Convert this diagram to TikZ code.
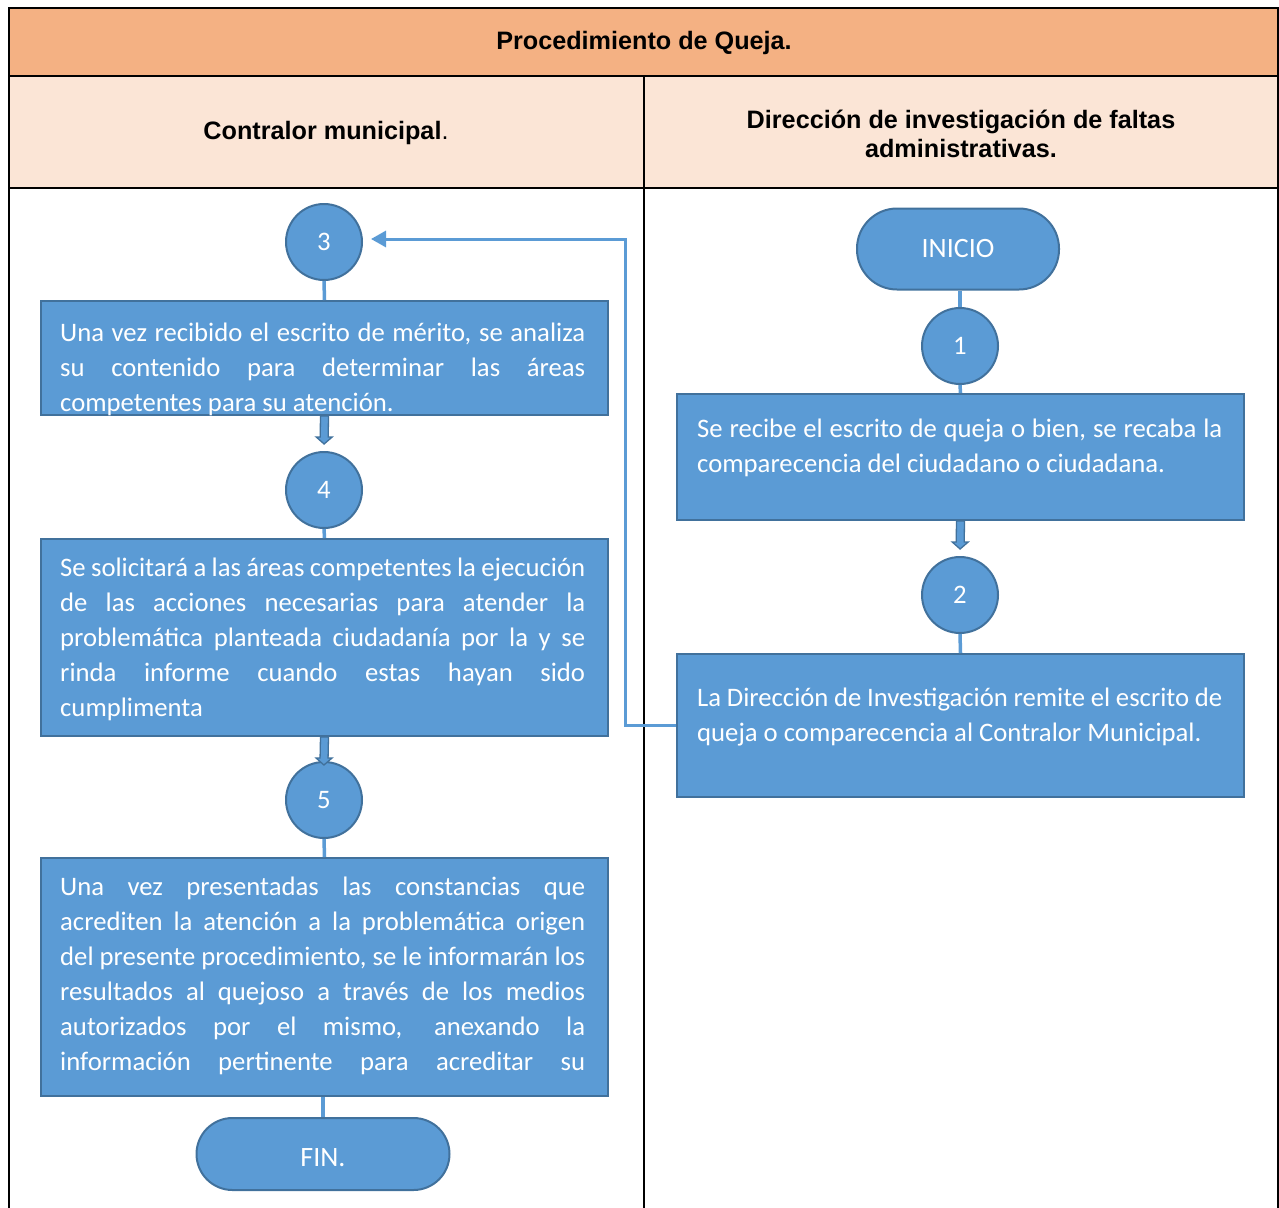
\documentclass[tikz,border=0pt]{standalone}
\usepackage{fontspec}
\setmainfont{Carlito}
\newfontfamily\headfont{Liberation Sans}
\usetikzlibrary{arrows.meta,calc}

\definecolor{flowfill}{HTML}{5B9BD5}
\definecolor{flowedge}{HTML}{41719C}
\definecolor{headdark}{HTML}{F4B183}
\definecolor{headlight}{HTML}{FBE5D6}

% one justified line of a step text, and a paragraph made of such lines
\newcommand{\jl}[1]{\hbox to 525pt{#1}}
\newcommand{\nl}[1]{\hbox{#1}}
\newcommand{\flowpar}[1]{\vtop{\baselineskip=35pt\lineskiplimit=-100pt #1}}

% thick block arrow leaving the bottom of one node towards another
\newcommand{\blockarrow}[2]{%
  \coordinate (#1-hb) at ($(#1.south)!21pt!(#2.north)$);
  \coordinate (#1-tip) at ($(#1.south)!28pt!(#2.north)$);
  \draw[blockarr] ($(#1.south)+(-4,0)$) -- ($(#1.south)+(4,0)$)
    -- ($(#1-hb)+(4,0)$) -- ($(#1-hb)+(8,0)$) -- (#1-tip)
    -- ($(#1-hb)+(-8,0)$) -- ($(#1-hb)+(-4,0)$) -- cycle;}

\begin{document}
\begin{tikzpicture}[x=1pt,y=-1pt,
  bodyfont/.style={font=\fontsize{26.7}{35}\selectfont},
  headtext/.style={font=\headfont\bfseries\fontsize{25.2}{29}\selectfont, text=black, align=center, inner sep=0},
  grid/.style={draw=black, line width=2.5pt},
  stepbox/.style={rectangle, draw=flowedge, fill=flowfill, line width=2pt, inner sep=0, anchor=north west},
  numcircle/.style={circle, draw=flowedge, fill=flowfill, line width=2pt, minimum size=76pt, inner sep=0, text=white, bodyfont},
  terminal/.style={rectangle, draw=flowedge, fill=flowfill, line width=2pt, inner sep=0, text=white, font=\fontsize{28}{35}\selectfont},
  steptext/.style={anchor=base west, inner sep=0, text=white, bodyfont},
  link/.style={draw=flowfill, line width=3.5pt},
  blockarr/.style={draw=flowedge, fill=flowfill, line width=1.3pt, line join=miter},
]
\useasboundingbox (0,0) rectangle (1279,1207);

% table header
\fill[headdark] (9,8) rectangle (1278,76);
\fill[headlight] (9,76) rectangle (1278,188);
\draw[grid] (9,1210) -- (9,8) -- (1278,8) -- (1278,1210);
\draw[grid] (9,76) -- (1278,76);
\draw[grid] (9,188) -- (1278,188);
\draw[grid] (644,76) -- (644,1210);

\node[headtext] (title) at (644,43) {Procedimiento de Queja.};
\node[headtext] (laneA) at (326,133) {Contralor municipal\mdseries.};
\node[headtext] (laneB) at (961,134) {Dirección de investigación de faltas\\administrativas.};

% right lane
\node[terminal, minimum width=202pt, minimum height=81pt, rounded corners=40pt] (inicio) at (958,249) {INICIO};
\node[numcircle] (c1) at (960,346) {1};
\node[stepbox, minimum width=567pt, minimum height=126pt] (boxD) at (676,393) {};
\node[numcircle] (c2) at (960,595) {2};
\node[stepbox, minimum width=567pt, minimum height=143pt] (boxE) at (676,653) {};

% left lane
\node[numcircle] (c3) at (324,242) {3};
\node[stepbox, minimum width=567pt, minimum height=114pt] (boxA) at (40,300) {};
\node[numcircle] (c4) at (324,490) {4};
\node[stepbox, minimum width=567pt, minimum height=197pt] (boxB) at (40,538) {};
\node[numcircle] (c5) at (324,800) {5};
\node[stepbox, minimum width=567pt, minimum height=238pt] (boxC) at (40,857) {};
\node[terminal, minimum width=253pt, minimum height=72pt, rounded corners=36pt,
  label={[text=white, font=\fontsize{28}{35}\selectfont, yshift=-4pt]center:FIN.}] (fin) at (323,1154) {};

% plain links
\draw[link] (c1.north |- inicio.south) -- (c1.north);
\draw[link] (c1.south) -- (boxD.north);
\draw[link] (c2.south) -- (boxE.north);
\draw[link] (c3.south) -- (boxA.north);
\draw[link] (c4.south) -- (boxB.north);
\draw[link] (c5.south) -- (boxC.north);
\draw[link] (fin.north |- boxC.south) -- (fin.north);

% block arrows
\blockarrow{boxD}{c2}
\blockarrow{boxA}{c4}
\blockarrow{boxB}{c5}

% return to the other lane
\draw[link, line width=3pt, -{Triangle[length=15pt,width=16pt]}]
  (boxE.west) -- ++(-51,0) |- ([xshift=8pt,yshift=3pt]c3.east);

% step texts
\node[steptext] (tD) at (697,437) {\flowpar{%
  \jl{Se recibe el escrito de queja o bien, se recaba la}
  \nl{comparecencia del ciudadano o ciudadana.}}};
\node[steptext] (tE) at (697,706) {\flowpar{%
  \jl{La Dirección de Investigación remite el escrito de}
  \nl{queja o comparecencia al Contralor Municipal.}}};
\node[steptext] (tA) at (60,341) {\flowpar{%
  \jl{Una vez recibido el escrito de mérito, se analiza}
  \jl{su contenido para determinar las áreas}
  \nl{competentes para su atención.}}};
\node[steptext] (tB) at (60,576) {\flowpar{%
  \jl{Se solicitará a las áreas competentes la ejecución}
  \jl{de las acciones necesarias para atender la}
  \jl{problemática planteada ciudadanía por la y se}
  \jl{rinda informe cuando estas hayan sido}
  \nl{cumplimenta}}};
\node[steptext] (tC) at (60,895) {\flowpar{%
  \jl{Una vez presentadas las constancias que}
  \jl{acrediten la atención a la problemática origen}
  \jl{del presente procedimiento, se le informarán los}
  \jl{resultados al quejoso a través de los medios}
  \jl{autorizados por el mismo, anexando la}
  \jl{información pertinente para acreditar su}}};
\end{tikzpicture}
\end{document}
